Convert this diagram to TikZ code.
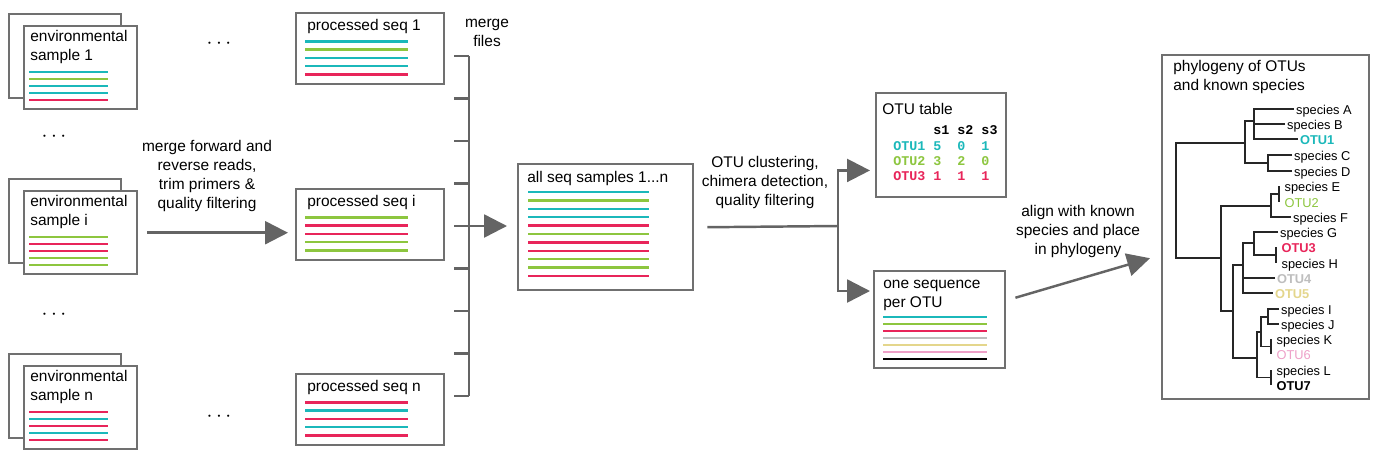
\documentclass[tikz,border=0pt]{standalone}
\usepackage{fontspec}
\setmainfont{Liberation Sans}
\newfontfamily\tabfont{Liberation Mono}
\usepackage{tikz}
\usetikzlibrary{arrows.meta,calc}
\definecolor{seq_cyan}{RGB}{27,184,186}
\definecolor{seq_green}{RGB}{141,198,63}
\definecolor{seq_red}{RGB}{232,37,90}
\definecolor{seq_gray}{RGB}{190,190,190}
\definecolor{seq_sand}{RGB}{228,214,140}
\definecolor{seq_pink}{RGB}{238,160,200}
\definecolor{frame_gray}{RGB}{112,112,112}
\definecolor{arrow_gray}{RGB}{100,100,100}

\begin{document}
\begin{tikzpicture}[x=0.02cm,y=-0.02cm,
	box/.style={draw=frame_gray,line width=1.4pt,fill=white,anchor=north west,inner sep=0pt},
	boxtext/.style={anchor=base west,align=left,inner sep=0pt,font=\fontsize{8.8}{10.8}\selectfont},
	steptext/.style={anchor=base,align=center,inner sep=0pt,font=\fontsize{8.8}{10.8}\selectfont},
	tabtext/.style={anchor=base west,inner sep=0pt,font={\tabfont\bfseries\fontsize{7.6}{8}\selectfont}},
	seq/.style={line width=1.4pt},
	bracket/.style={draw=arrow_gray,line width=1.4pt},
	arr/.style={draw=arrow_gray,line width=1.4pt,-{Triangle[length=13pt,width=13pt]}},
	leaf/.style={anchor=west,inner sep=1pt,font=\fontsize{7.3}{8}\selectfont,text height=1.5ex,text depth=0.4ex},
	pairleaf/.style={leaf,inner xsep=3pt},
	branch/.style={draw=black!85,line width=0.6pt}]
	\useasboundingbox (0,0) rectangle (1376,464);

	% environmental samples
	\foreach \n/\y/\cols in {1/13/{seq_cyan,seq_green,seq_cyan,seq_cyan,seq_red},
			i/178/{seq_green,seq_red,seq_red,seq_green,seq_green},
			n/353/{seq_red,seq_cyan,seq_red,seq_cyan,seq_red}} {
		\node[box,minimum width=2.24cm,minimum height=1.68cm] (back\n) at (8,\y) {};
		\node[box,minimum width=2.26cm,minimum height=1.66cm] (env\n) at (23,\y+12) {};
		\node[boxtext] (envtext\n) at (30,\y+47) {environmental\\sample \n};
		\foreach \c [count=\k] in \cols
			\draw[seq,\c] (29,\y+52+7*\k) -- (108,\y+52+7*\k);
	}

	% processed sequences
	\foreach \n/\y/\cols in {1/12/{seq_cyan,seq_green,seq_cyan,seq_cyan,seq_red},
			i/188/{seq_green,seq_red,seq_red,seq_green,seq_green},
			n/373/{seq_red,seq_cyan,seq_red,seq_cyan,seq_red}} {
		\node[box,minimum width=2.96cm,minimum height=1.42cm] (p\n) at (295,\y) {};
		\node[boxtext] (ptext\n) at (307,\y+18.5) {processed seq \n};
		\foreach \c [count=\k] in \cols
			\draw[seq,\c] (305,\y+21+8.3*\k) -- (408,\y+21+8.3*\k);
	}

	\node (dots1) at (219,44) {\fontsize{12}{12}\selectfont$\cdots$};
	\node (dots2) at (54,137) {\fontsize{12}{12}\selectfont$\cdots$};
	\node (dots3) at (54,315) {\fontsize{12}{12}\selectfont$\cdots$};
	\node (dots4) at (219,417) {\fontsize{12}{12}\selectfont$\cdots$};

	\node[steptext] (mergetext) at (207,208) {merge forward and\\reverse reads,\\trim primers \&\\quality filtering};
	\draw[arr] ($(envi.east)+(9,0)$) -- ($(envi.east -| pi.west)+(-7,0)$);

	% merge files
	\node[steptext] (filestext) at (487,46) {merge\\files};
	\draw[bracket] (469,56) -- (469,396);
	\foreach \t in {0,...,8}
		\draw[bracket] (454,56+42.5*\t) -- (469,56+42.5*\t);
	\coordinate (mrg) at (469,226);

	% all sequences
	\node[box,minimum width=3.5cm,minimum height=2.52cm] (all) at (517,163) {};
	\node[boxtext] (alltext) at (527,182) {all seq samples 1...n};
	\foreach \c [count=\k] in {seq_cyan,seq_green,seq_cyan,seq_cyan,seq_red,seq_green,seq_red,seq_red,seq_green,seq_green,seq_red}
		\draw[seq,\c] (528,183.6+8.4*\k) -- (649,183.6+8.4*\k);
	\draw[arr] (mrg) -- ($(mrg -| all.west)+(-10,0)$);

	% OTU clustering
	\node[steptext] (clustertext) at (765,205) {OTU clustering,\\chimera detection,\\quality filtering};
	\coordinate (split) at (838,226);
	\draw[bracket] ($(all.east)+(13,0)$) -- (split);

	\node[box,minimum width=2.6cm,minimum height=2.08cm] (otutab) at (875,92) {};
	\node[boxtext] (otutabtext) at (882,114.5) {OTU table};
	\node[tabtext] (hdr) at (893,134.5) {~~~~~s1~s2~s3};
	\node[tabtext,seq_cyan] (row1) at (893,150) {OTU1~5~~0~~1};
	\node[tabtext,seq_green] (row2) at (893,165) {OTU2~3~~2~~0};
	\node[tabtext,seq_red] (row3) at (893,180) {OTU3~1~~1~~1};

	\node[box,minimum width=2.62cm,minimum height=1.94cm] (oneseq) at (873,270) {};
	\node[boxtext] (oneseqtext) at (883,307) {one sequence\\per OTU};
	\foreach \c [count=\k] in {seq_cyan,seq_green,seq_red,seq_gray,seq_sand,seq_pink,black}
		\draw[seq,\c] (883,310+7*\k) -- (987,310+7*\k);

	\draw[arr] (split) |- ($(otutab.south west)+(-5,-28)$);
	\draw[arr] (split) |- ($(oneseq.north west)+(-3,21)$);

	% phylogeny
	\node[steptext] (aligntext) at (1078,254) {align with known\\species and place\\in phylogeny};
	\node[box,minimum width=4.14cm,minimum height=6.88cm] (phylo) at (1161,54) {};
	\draw[arr] ($(oneseq.east)+(9,-22)$) -- ($(phylo.west)+(-11,31)$);
	\node[boxtext] (phylotext) at (1173,90) {phylogeny of OTUs\\and known species};

	\foreach \name/\txt/\x/\y in {spA/A/1294/109,spB/B/1285/124,spC/C/1292/155,spD/D/1292/171,
			spF/F/1291/217,spG/G/1278/232,spI/I/1279/309,spJ/J/1279/324}
		\node[leaf] (\name) at (\x,\y) {species \txt};
	\foreach \name/\txt/\x/\y in {spE/E/1279/186,spH/H/1276/263,spK/K/1271/339,spL/L/1271/370}
		\node[pairleaf] (\name) at (\x,\y) {species \txt};
	\node[leaf,seq_cyan,font=\fontsize{7.3}{8}\selectfont\bfseries] (otu1) at (1298,139) {OTU1};
	\node[pairleaf,seq_green] (otu2) at (1279,202) {OTU2};
	\node[pairleaf,seq_red,font=\fontsize{7.3}{8}\selectfont\bfseries] (otu3) at (1276,247) {OTU3};
	\node[leaf,seq_gray,font=\fontsize{7.3}{8}\selectfont\bfseries] (otu4) at (1275,278) {OTU4};
	\node[leaf,seq_sand,font=\fontsize{7.3}{8}\selectfont\bfseries] (otu5) at (1273,293) {OTU5};
	\node[pairleaf,seq_pink] (otu6) at (1271,354) {OTU6};
	\node[pairleaf,font=\fontsize{7.3}{8}\selectfont\bfseries] (otu7) at (1271,385) {OTU7};

	\coordinate (n1) at (1254,121);
	\draw[branch] (spA.west) -| (n1) |- (otu1.west);
	\draw[branch] (spB.west) -- (spB.west -| n1);
	\coordinate (n2) at (1268,163);
	\draw[branch] (spC.west) -| (n2) |- (spD.west);
	\coordinate (n3) at (1245,143);
	\draw[branch] (n1) -| (n3) |- (n2);
	\coordinate (root) at (1176,200);
	\coordinate (n4) at (1221,258);
	\draw[branch] (n3) -| (root) |- (n4);
	\draw[branch] (spE.west) -- (otu2.west);
	\coordinate (n5) at (1271,206);
	\draw[branch] ($(spE.west)!0.5!(otu2.west)$) -| (n5) |- (spF.west);
	\coordinate (n6) at (1233,311);
	\draw[branch] (n5) -| (n4) |- (n6);
	\draw[branch] (otu3.west) -- (spH.west);
	\coordinate (n8) at (1254,243);
	\draw[branch] (spG.west) -| (n8) |- ($(otu3.west)!0.5!(spH.west)$);
	\coordinate (n7) at (1243,265);
	\draw[branch] (n8) -| (n7) |- (otu5.west);
	\draw[branch] (otu4.west) -- (otu4.west -| n7);
	\coordinate (n9) at (1257,358);
	\draw[branch] (n7) -| (n6) |- (n9);
	\coordinate (n10) at (1261,332);
	\coordinate (n11) at (1268,317);
	\draw[branch] (spI.west) -| (n11) |- (spJ.west);
	\draw[branch] (spK.west) -- (otu6.west);
	\draw[branch] (n11) -| (n10) |- ($(spK.west)!0.5!(otu6.west)$);
	\draw[branch] (spL.west) -- (otu7.west);
	\draw[branch] (n10) -| (n9) |- ($(spL.west)!0.5!(otu7.west)$);
\end{tikzpicture}
\end{document}
